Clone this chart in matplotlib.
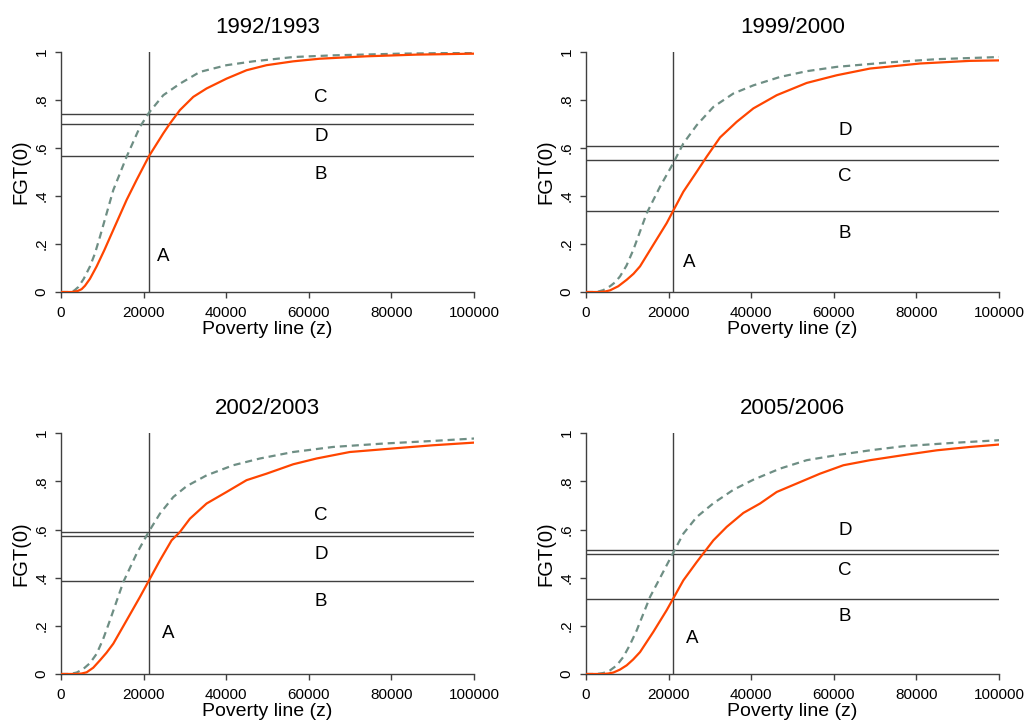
import matplotlib.pyplot as plt

plt.rcParams['font.family'] = ['Liberation Sans', 'DejaVu Sans']

titles = ['1992/1993', '1999/2000', '2002/2003', '2005/2006']

# curve points: (poverty line, FGT(0))
solid_x = [
    [0, 2580, 4000, 5000, 5800, 7000, 8630, 10500, 12660, 15890, 18300, 21290, 24760, 26370, 28790,
     32020, 35240, 40080, 44920, 49760, 56210, 62660, 73950, 86050, 100000],
    [0, 3390, 4600, 5810, 7800, 9850, 11500, 13080, 16300, 19530, 21000, 23570, 26800, 29220, 32450,
     36480, 40520, 46170, 53430, 60690, 68760, 80870, 92980, 100000],
    [0, 3790, 5000, 6210, 7800, 9440, 11000, 12660, 15890, 19110, 21210, 23950, 26770, 28790, 31210,
     35240, 40080, 44920, 49760, 56210, 61860, 69920, 82020, 90080, 100000],
    [0, 4200, 5400, 6620, 8200, 9850, 11400, 13080, 16300, 19530, 21000, 23570, 26800, 30830, 34060,
     38100, 42130, 46170, 51000, 56660, 62310, 68760, 76830, 84910, 92980, 100000],
]
solid_y = [
    [0, 0, 0.004, 0.012, 0.026, 0.055, 0.107, 0.175, 0.259, 0.384, 0.467, 0.566, 0.661, 0.702, 0.758,
     0.813, 0.848, 0.889, 0.924, 0.945, 0.961, 0.972, 0.982, 0.989, 0.993],
    [0, 0, 0.002, 0.007, 0.024, 0.051, 0.076, 0.107, 0.197, 0.287, 0.335, 0.418, 0.501, 0.564, 0.644,
     0.709, 0.765, 0.820, 0.871, 0.903, 0.931, 0.952, 0.963, 0.965],
    [0, 0, 0.002, 0.007, 0.026, 0.057, 0.088, 0.126, 0.223, 0.320, 0.386, 0.472, 0.555, 0.590, 0.645,
     0.708, 0.756, 0.805, 0.832, 0.871, 0.895, 0.922, 0.939, 0.950, 0.961],
    [0, 0, 0.002, 0.006, 0.018, 0.036, 0.060, 0.091, 0.175, 0.265, 0.310, 0.389, 0.465, 0.555, 0.611,
     0.669, 0.708, 0.756, 0.791, 0.832, 0.867, 0.888, 0.909, 0.929, 0.943, 0.953],
]
dash_x = [
    [0, 2180, 3200, 4190, 5500, 7020, 8200, 9440, 12660, 15890, 19110, 21290, 24760, 28790, 33630,
     40080, 46530, 56210, 65890, 82020, 100000],
    [0, 2580, 4200, 5810, 7000, 8230, 9800, 11460, 14690, 17920, 21000, 23570, 26800, 30830, 35670,
     40520, 46970, 53430, 60690, 72800, 84910, 100000],
    [0, 2180, 3800, 5400, 7000, 8630, 10200, 11850, 15080, 18310, 21210, 23950, 27180, 30400, 35240,
     41690, 48150, 56210, 65890, 77980, 90080, 100000],
    [0, 2580, 4200, 5810, 7400, 9040, 10600, 12270, 15500, 18720, 21000, 23570, 26800, 30830, 35670,
     40520, 46970, 53430, 60690, 68760, 76830, 88930, 100000],
]
dash_y = [
    [0, 0, 0.006, 0.021, 0.055, 0.107, 0.160, 0.231, 0.425, 0.564, 0.688, 0.747, 0.820, 0.868, 0.917,
     0.945, 0.961, 0.979, 0.986, 0.993, 0.997],
    [0, 0, 0.008, 0.024, 0.040, 0.065, 0.110, 0.176, 0.328, 0.439, 0.533, 0.619, 0.695, 0.771, 0.827,
     0.861, 0.896, 0.920, 0.938, 0.956, 0.970, 0.979],
    [0, 0, 0.006, 0.021, 0.045, 0.084, 0.145, 0.223, 0.382, 0.500, 0.590, 0.666, 0.735, 0.780, 0.825,
     0.867, 0.895, 0.922, 0.943, 0.957, 0.968, 0.978],
    [0, 0, 0.004, 0.015, 0.035, 0.071, 0.120, 0.181, 0.320, 0.425, 0.500, 0.583, 0.652, 0.709, 0.765,
     0.807, 0.853, 0.888, 0.909, 0.929, 0.946, 0.960, 0.971],
]

# reference lines
z_line = [21300, 21000, 21200, 21000]
h_lines = [
    [0.740, 0.701, 0.565],
    [0.607, 0.549, 0.339],
    [0.590, 0.575, 0.388],
    [0.515, 0.500, 0.310],
]

# area letters: (letter, x, y)
letters = [
    [('C', 63000, 0.811), ('D', 63000, 0.647), ('B', 63000, 0.488), ('A', 24800, 0.147)],
    [('D', 62700, 0.671), ('C', 62700, 0.480), ('B', 62700, 0.244), ('A', 24900, 0.124)],
    [('C', 63000, 0.659), ('D', 63000, 0.497), ('B', 63000, 0.299), ('A', 26000, 0.168)],
    [('D', 62700, 0.597), ('C', 62700, 0.428), ('B', 62700, 0.240), ('A', 25800, 0.147)],
]

x_ticks = [0, 20000, 40000, 60000, 80000, 100000]
y_ticks = [0, 0.2, 0.4, 0.6, 0.8, 1]
y_ticklabels = ['0', '.2', '.4', '.6', '.8', '1']

fig = plt.figure(figsize=(10.29, 7.23), dpi=100)
positions = [
    [0.0593, 0.5961, 0.4014, 0.332],
    [0.5695, 0.5961, 0.4014, 0.332],
    [0.0593, 0.0678, 0.4014, 0.333],
    [0.5695, 0.0678, 0.4014, 0.333],
]

axis_col = '#404040'

for i in range(4):
    ax = fig.add_axes(positions[i])
    ax.plot(dash_x[i], dash_y[i], color='#6e8e84', lw=1.6, linestyle=(0, (3.2, 2.2)), zorder=3)
    ax.plot(solid_x[i], solid_y[i], color='#ff4500', lw=1.6, zorder=4)
    ax.axvline(z_line[i], color=axis_col, lw=1.0, zorder=2)
    for h in h_lines[i]:
        ax.axhline(h, color=axis_col, lw=1.0, zorder=2)
    for lab, lx, ly in letters[i]:
        ax.text(lx, ly, lab, fontsize=13.5, ha='center', va='center')

    ax.set_xlim(0, 100000)
    ax.set_ylim(0, 1)
    ax.set_xticks(x_ticks)
    ax.set_xticklabels([str(t) for t in x_ticks], fontsize=11)
    ax.set_yticks(y_ticks)
    ax.set_yticklabels(y_ticklabels, fontsize=11, rotation=90, va='center')
    ax.tick_params(direction='out', length=4, width=1, color=axis_col)
    ax.tick_params(axis='x', pad=6)
    ax.tick_params(axis='y', pad=5)
    for s in ['top', 'right']:
        ax.spines[s].set_visible(False)
    for s in ['left', 'bottom']:
        ax.spines[s].set_color(axis_col)
        ax.spines[s].set_linewidth(1.0)
    ax.set_xlabel('Poverty line (z)', fontsize=14, labelpad=1)
    ax.set_ylabel('FGT(0)', fontsize=14.5, labelpad=3)
    ax.set_title(titles[i], fontsize=16, pad=14)

fig.savefig('out.png', dpi=100)
